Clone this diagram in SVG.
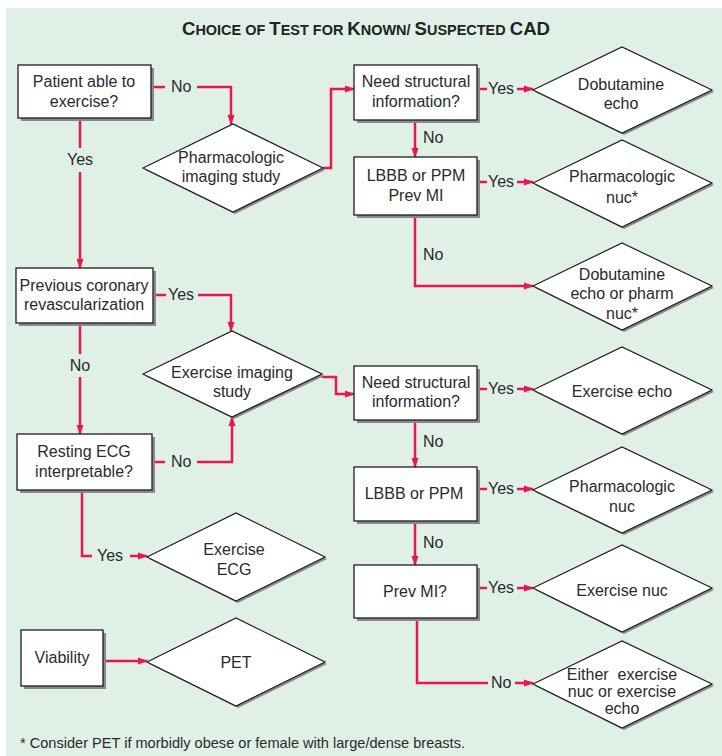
<svg xmlns="http://www.w3.org/2000/svg" width="722" height="756" viewBox="0 0 722 756">
<defs>
<marker id="ah" markerUnits="userSpaceOnUse" markerWidth="10" markerHeight="8" refX="9" refY="4" orient="auto">
<path d="M0,0.5 L10,4 L0,7.5 Z" fill="#e8174f"/>
</marker>
<style>
.bx{fill:#fff;stroke:#1e1e1e;stroke-width:1.3}
.sh{fill:#8a8a8a}
.dm{fill:#fff;stroke:#1e1e1e;stroke-width:1.2}
.t{font-family:"Liberation Sans",Arial,sans-serif;font-size:16px;fill:#2a2a2a;text-anchor:middle}
.l{font-family:"Liberation Sans",Arial,sans-serif;font-size:16px;fill:#2a2a2a}
.c{fill:none;stroke:#e8174f;stroke-width:2.5}
.ttl{font-family:"Liberation Sans",Arial,sans-serif;font-weight:bold;fill:#222}
</style>
</defs>
<rect x="0" y="0" width="722" height="756" fill="#fff"/>
<rect x="6" y="8" width="716" height="748" fill="#e0f0e6"/>
<text class="ttl" x="366" y="35" text-anchor="middle" textLength="368" lengthAdjust="spacingAndGlyphs"><tspan font-size="18">C</tspan><tspan font-size="14">HOICE OF </tspan><tspan font-size="18">T</tspan><tspan font-size="14">EST FOR </tspan><tspan font-size="18">K</tspan><tspan font-size="14">NOWN/ </tspan><tspan font-size="18">S</tspan><tspan font-size="14">USPECTED </tspan><tspan font-size="18">CAD</tspan></text>

<g id="connectors">
<path class="c" d="M151,87 H165"/>
<path class="c" d="M197,87 H231 V124" marker-end="url(#ah)"/>
<text class="l" x="171" y="92">No</text>
<path class="c" d="M80,118 V148"/>
<path class="c" d="M80,172 V268" marker-end="url(#ah)"/>
<text class="t" x="80" y="165">Yes</text>
<path class="c" d="M323,168 H331 V89 H354" marker-end="url(#ah)"/>
<path class="c" d="M477,89 H487"/>
<path class="c" d="M517,89 H533" marker-end="url(#ah)"/>
<text class="l" x="488" y="94">Yes</text>
<path class="c" d="M415,120 V157" marker-end="url(#ah)"/>
<text class="l" x="423" y="143">No</text>
<path class="c" d="M477,182 H487"/>
<path class="c" d="M517,182 H533" marker-end="url(#ah)"/>
<text class="l" x="488" y="187">Yes</text>
<path class="c" d="M415,215 V286 H533" marker-end="url(#ah)"/>
<text class="l" x="423" y="260">No</text>
<path class="c" d="M153,295 H166"/>
<path class="c" d="M198,295 H231 V331" marker-end="url(#ah)"/>
<text class="l" x="168" y="300">Yes</text>
<path class="c" d="M80,323 V354"/>
<path class="c" d="M80,377 V434" marker-end="url(#ah)"/>
<text class="t" x="80" y="371">No</text>
<path class="c" d="M152,462 H165"/>
<path class="c" d="M197,462 H232 V417" marker-end="url(#ah)"/>
<text class="l" x="171" y="467">No</text>
<path class="c" d="M322,377 H336 V394 H354" marker-end="url(#ah)"/>
<path class="c" d="M477,389 H487"/>
<path class="c" d="M517,389 H533" marker-end="url(#ah)"/>
<text class="l" x="488" y="394">Yes</text>
<path class="c" d="M415,420 V467" marker-end="url(#ah)"/>
<text class="l" x="423" y="447">No</text>
<path class="c" d="M477,489 H487"/>
<path class="c" d="M517,489 H533" marker-end="url(#ah)"/>
<text class="l" x="488" y="494">Yes</text>
<path class="c" d="M415,521 V565" marker-end="url(#ah)"/>
<text class="l" x="423" y="548">No</text>
<path class="c" d="M477,588 H487"/>
<path class="c" d="M517,588 H533" marker-end="url(#ah)"/>
<text class="l" x="488" y="593">Yes</text>
<path class="c" d="M417,618 V683 H488"/>
<path class="c" d="M515,683 H533" marker-end="url(#ah)"/>
<text class="l" x="491" y="688">No</text>
<path class="c" d="M82,490 V556 H92"/>
<path class="c" d="M130,556 H147" marker-end="url(#ah)"/>
<text class="l" x="97" y="561">Yes</text>
<path class="c" d="M103,661 H147" marker-end="url(#ah)"/>
</g>

<g id="b1"><rect class="sh" x="21" y="68" width="133" height="53"/><rect class="bx" x="18" y="65" width="133" height="53"/><text class="t" x="84" y="87">Patient able to</text><text class="t" x="84" y="107">exercise?</text></g>
<g id="b2"><rect class="sh" x="357" y="68" width="123" height="55"/><rect class="bx" x="354" y="65" width="123" height="55"/><text class="t" x="416" y="87">Need structural</text><text class="t" x="416" y="107">information?</text></g>
<g id="b3"><rect class="sh" x="357" y="160" width="123" height="58"/><rect class="bx" x="354" y="157" width="123" height="58"/><text class="t" x="416" y="181">LBBB or PPM</text><text class="t" x="416" y="201">Prev MI</text></g>
<g id="b4"><rect class="sh" x="19" y="271" width="137" height="55"/><rect class="bx" x="16" y="268" width="137" height="55"/><text class="t" x="84" y="291">Previous coronary</text><text class="t" x="84" y="310">revascularization</text></g>
<g id="b5"><rect class="sh" x="357" y="369" width="123" height="54"/><rect class="bx" x="354" y="366" width="123" height="54"/><text class="t" x="416" y="388">Need structural</text><text class="t" x="416" y="407">information?</text></g>
<g id="b6"><rect class="sh" x="357" y="470" width="123" height="54"/><rect class="bx" x="354" y="467" width="123" height="54"/><text class="t" x="414" y="499">LBBB or PPM</text></g>
<g id="b7"><rect class="sh" x="357" y="568" width="123" height="53"/><rect class="bx" x="354" y="565" width="123" height="53"/><text class="t" x="415" y="597">Prev MI?</text></g>
<g id="b8"><rect class="sh" x="20" y="437" width="135" height="56"/><rect class="bx" x="17" y="434" width="135" height="56"/><text class="t" x="84" y="457">Resting ECG</text><text class="t" x="84" y="477">interpretable?</text></g>
<g id="b9"><rect class="sh" x="24" y="633" width="82" height="56"/><rect class="bx" x="21" y="630" width="82" height="56"/><text class="t" x="62" y="663">Viability</text></g>

<g id="d1"><polygon class="sh" points="145,170 235,126 325,170 235,214"/><polygon class="dm" points="143,168 233,124 323,168 233,212"/><text class="t" x="231" y="163">Pharmacologic</text><text class="t" x="231" y="182">imaging study</text></g>
<g id="d2"><polygon class="sh" points="535,92 624,49 714,92 624,135"/><polygon class="dm" points="533,90 622,47 712,90 622,133"/><text class="t" x="621" y="90">Dobutamine</text><text class="t" x="621" y="109">echo</text></g>
<g id="d3"><polygon class="sh" points="535,185 624,142 714,185 624,229"/><polygon class="dm" points="533,183 622,140 712,183 622,227"/><text class="t" x="622" y="182">Pharmacologic</text><text class="t" x="622" y="203">nuc*</text></g>
<g id="d4"><polygon class="sh" points="535,288 624,245 714,288 624,332"/><polygon class="dm" points="533,286 622,243 712,286 622,330"/><text class="t" x="622" y="280">Dobutamine</text><text class="t" x="622" y="299">echo or pharm</text><text class="t" x="622" y="319">nuc*</text></g>
<g id="d5"><polygon class="sh" points="145,376 234,333 324,376 234,419"/><polygon class="dm" points="143,374 232,331 322,374 232,417"/><text class="t" x="232" y="378">Exercise imaging</text><text class="t" x="232" y="397">study</text></g>
<g id="d6"><polygon class="sh" points="535,392 624,349 714,392 624,436"/><polygon class="dm" points="533,390 622,347 712,390 622,434"/><text class="t" x="622" y="397">Exercise echo</text></g>
<g id="d7"><polygon class="sh" points="535,492 624,449 714,492 624,535"/><polygon class="dm" points="533,490 622,447 712,490 622,533"/><text class="t" x="622" y="492">Pharmacologic</text><text class="t" x="622" y="512">nuc</text></g>
<g id="d8"><polygon class="sh" points="535,590 624,547 714,590 624,634"/><polygon class="dm" points="533,588 622,545 712,588 622,632"/><text class="t" x="622" y="596">Exercise nuc</text></g>
<g id="d9"><polygon class="sh" points="535,686 624,643 714,686 624,730"/><polygon class="dm" points="533,684 622,641 712,684 622,728"/><text class="t" x="622" y="680">Either&#160; exercise</text><text class="t" x="622" y="697">nuc or exercise</text><text class="t" x="622" y="714">echo</text></g>
<g id="d10"><polygon class="sh" points="149,559 238,515 327,559 238,603"/><polygon class="dm" points="147,557 236,513 325,557 236,601"/><text class="t" x="234" y="555">Exercise</text><text class="t" x="234" y="575">ECG</text></g>
<g id="d11"><polygon class="sh" points="149,664 238,620 327,664 238,708"/><polygon class="dm" points="147,662 236,618 325,662 236,706"/><text class="t" x="236" y="668">PET</text></g>

<text x="20" y="748" font-family="Liberation Sans, Arial, sans-serif" font-size="14.5" fill="#2a2a2a" textLength="445" lengthAdjust="spacingAndGlyphs">* Consider PET if morbidly obese or female with large/dense breasts.</text>
</svg>
